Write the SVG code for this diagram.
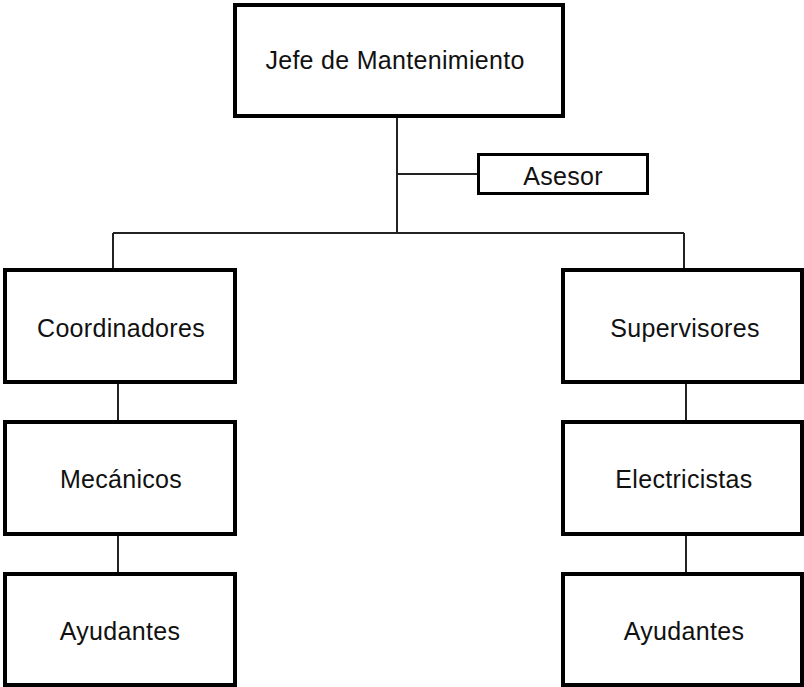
<svg xmlns="http://www.w3.org/2000/svg" width="804" height="687" viewBox="0 0 804 687">
<style>
.box{fill:#fff;stroke:#000;stroke-width:4}
.small{stroke-width:3}
.lbl{font-family:"Liberation Sans",Arial,sans-serif;font-size:25px;letter-spacing:0.3px;fill:#111;text-anchor:middle}
.con{stroke:#222;stroke-width:2;fill:none}
</style>
<rect width="804" height="687" fill="#fff"/>
<g id="connectors">
<path class="con" d="M397 118V233M397 174H478M113 233H684M113 233V268M684 233V268M118 384V420M118 536V572M686 384V420M686 536V572"/>
</g>
<g id="jefe"><rect class="box" x="235" y="5" width="328" height="111"/><text class="lbl" x="395" y="69">Jefe de Mantenimiento</text></g>
<g id="asesor"><rect class="box small" x="478.5" y="154.5" width="169" height="39"/><text class="lbl" x="563" y="185">Asesor</text></g>
<g id="coordinadores"><rect class="box" x="5" y="270" width="230" height="112"/><text class="lbl" x="121" y="337">Coordinadores</text></g>
<g id="mecanicos"><rect class="box" x="5" y="422" width="230" height="112"/><text class="lbl" x="121" y="488">Mecánicos</text></g>
<g id="ayudantes-izq"><rect class="box" x="5" y="574" width="230" height="111"/><text class="lbl" x="120" y="640">Ayudantes</text></g>
<g id="supervisores"><rect class="box" x="563" y="270" width="239" height="112"/><text class="lbl" x="685" y="337">Supervisores</text></g>
<g id="electricistas"><rect class="box" x="563" y="422" width="239" height="112"/><text class="lbl" x="684" y="488">Electricistas</text></g>
<g id="ayudantes-der"><rect class="box" x="563" y="574" width="239" height="111"/><text class="lbl" x="684" y="640">Ayudantes</text></g>
</svg>
